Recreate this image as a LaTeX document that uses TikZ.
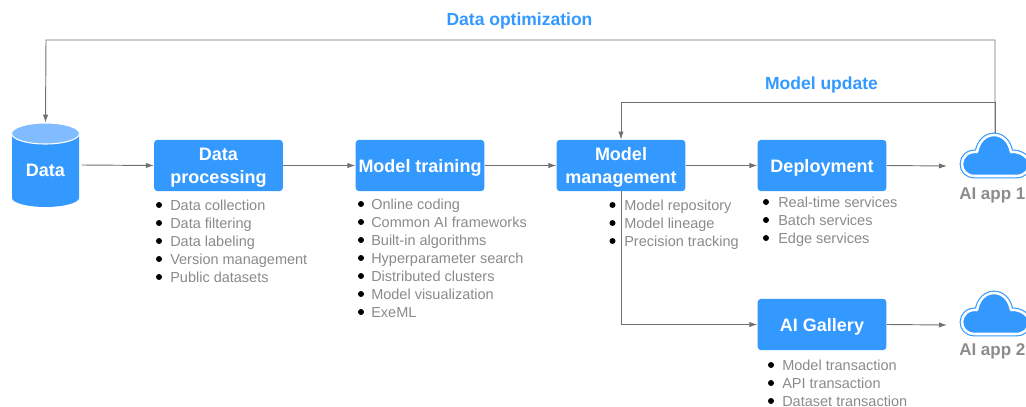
\documentclass[tikz,border=0pt]{standalone}
\usepackage{fontspec}
\setmainfont{Liberation Sans}
\usetikzlibrary{arrows.meta}
\definecolor{hwblue}{HTML}{3399FF}
\definecolor{hwlight}{HTML}{80BCFF}
\definecolor{hwline}{HTML}{707070}
\definecolor{hwtext}{HTML}{8A8A8A}
\definecolor{hwapp}{HTML}{8C8C8C}
\newcommand{\pxfont}[1]{\fontsize{\the\dimexpr#1pt*3/4\relax}{\the\dimexpr#1pt*3/4\relax}\selectfont}
\newcommand{\stagetop}{\rule{0pt}{13pt}}
\newcommand{\bulletlist}[4]{%
  \foreach \t [count=\i from 0] in {#4} {
    \node[bulletdot] at (#1,#3+18*\i) {};
    \node[listitem] at (#2,#3+5+18*\i) {\t};
  }}
\newcommand{\cloudshape}[1]{%
  \begin{scope}[yshift=#1*-0.75pt]
    \path[cloudouter] (975,176) .. controls (966,176) and (962,170) .. (962,164)
       .. controls (962,157) and (968,151) .. (977,152)
       .. controls (979,141) and (986,135) .. (994,135)
       .. controls (1002,135) and (1009,141) .. (1011,152)
       .. controls (1020,151) and (1029,157) .. (1029,164)
       .. controls (1029,171) and (1024,176) .. (1016,176) -- cycle;
    \path[cloudring] (975,176) .. controls (966,176) and (962,170) .. (962,164)
       .. controls (962,157) and (968,151) .. (977,152)
       .. controls (979,141) and (986,135) .. (994,135)
       .. controls (1002,135) and (1009,141) .. (1011,152)
       .. controls (1020,151) and (1029,157) .. (1029,164)
       .. controls (1029,171) and (1024,176) .. (1016,176) -- cycle;
  \end{scope}}
\tikzset{
  x=0.75pt,y=-0.75pt,
  stage/.style={fill=hwblue,draw=none,rounded corners=2.5pt,minimum width=96.5pt,minimum height=38.5pt,inner sep=0pt,
    text=white,font=\bfseries\pxfont{18},align=center},
  conn/.style={draw=hwline,line width=0.7pt,-{Latex[length=6pt,width=4pt,color=hwline]}},
  bulletdot/.style={circle,fill=black,inner sep=0pt,minimum size=4.5pt},
  listitem/.style={anchor=base west,inner sep=0pt,text=hwtext,font=\pxfont{14.5}},
  heading/.style={text=hwblue,font=\bfseries\pxfont{17.5},inner sep=0pt},
  applabel/.style={anchor=base west,text=hwapp,font=\bfseries\pxfont{17},inner sep=0pt},
  cloudouter/.style={fill=hwblue,draw=hwblue,line width=3.6pt,line join=round},
  cloudring/.style={draw=white,line width=1.9pt,line join=round},
  anchorbox/.style={inner sep=0pt,minimum width=50pt,minimum height=63pt,text=white,font=\bfseries\pxfont{18}}
}
\begin{document}
\begin{tikzpicture}
\useasboundingbox (0,0) rectangle (1026,407);
\clip (0,0) rectangle (1026,407);
% cylinder
\fill[hwblue] (12,133) -- (12,198) .. controls (12,203) and (28,207) .. (45.5,207)
   .. controls (63,207) and (79,203) .. (79,198) -- (79,133) -- cycle;
\fill[hwlight,draw=white,line width=0.8pt] (45.5,133.5) ellipse [x radius=34,y radius=10.5];
\node[anchorbox] (data) at (45.5,165) {\raisebox{-8.4pt}[0pt][0pt]{Data}};
% stages
\node[stage] (proc) at (218.5,165.5) {\stagetop Data\\[3.75pt]processing};
\node[stage] (train) at (420,165.5) {\stagetop Model training};
\node[stage] (mgmt) at (621,165.5) {\stagetop Model\\[3.75pt]management};
\node[stage] (deploy) at (822,165.5) {\stagetop Deployment};
\node[stage] (gallery) at (822,324.5) {\stagetop AI Gallery};
% clouds
\cloudshape{0}
\cloudshape{158}
\coordinate (cloudtop) at (995,133);
\coordinate (app1in) at (947,166);
\coordinate (app2in) at (947,325);
\node[applabel] (app1) at (959,199) {AI app 1};
\node[applabel] (app2) at (959,355) {AI app 2};
% connectors
\draw[conn] ([xshift=2pt]data.east) -- (proc.west);
\draw[conn] (proc.east) -- (train.west);
\draw[conn] (train.east) -- (mgmt.west);
\draw[conn] (mgmt.east) -- (deploy.west);
\draw[conn] (deploy.east) -- (app1in);
\draw[conn] (gallery.east) -- (app2in);
\draw[conn] (mgmt.south) |- (gallery.west);
\draw[conn] (cloudtop) |- (621,102) -- (mgmt.north);
\draw[conn] (cloudtop) |- (46,40) -- (data.north);
% headings
\node[heading] (opt) at (519.5,20.5) {Data optimization};
\node[heading] (upd) at (821.5,84.5) {Model update};
% lists
\bulletlist{159}{170}{205}{Data collection,Data filtering,Data labeling,Version management,Public datasets}
\bulletlist{361}{371}{204}{Online coding,Common AI frameworks,Built-in algorithms,Hyperparameter search,Distributed clusters,Model visualization,ExeML}
\bulletlist{612.5}{624}{205}{Model repository,Model lineage,Precision tracking}
\bulletlist{766}{778}{202}{Real-time services,Batch services,Edge services}
\bulletlist{771}{782}{365}{Model transaction,API transaction,Dataset transaction}
\end{tikzpicture}
\end{document}
